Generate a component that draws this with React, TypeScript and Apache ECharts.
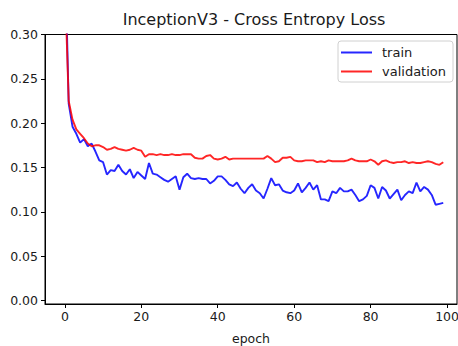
import React, { useEffect, useRef } from "react";
import * as echarts from "echarts";

const TITLE = "InceptionV3 - Cross Entropy Loss";
const X_TICKS = [0, 20, 40, 60, 80, 100];
const Y_TICKS = [0, 0.05, 0.1, 0.15, 0.2, 0.25, 0.3];

const trainLoss = [
  0.40, 0.222, 0.196, 0.188, 0.178, 0.182, 0.174, 0.177, 0.168, 0.158,
  0.156, 0.142, 0.147, 0.146, 0.153, 0.146, 0.142, 0.148, 0.138, 0.145,
  0.141, 0.137, 0.155, 0.143, 0.142, 0.139, 0.136, 0.134, 0.137, 0.140,
  0.125, 0.139, 0.143, 0.138, 0.137, 0.138, 0.137, 0.137, 0.132, 0.135,
  0.140, 0.140, 0.136, 0.131, 0.129, 0.133, 0.126, 0.121, 0.127, 0.131,
  0.124, 0.121, 0.115, 0.126, 0.138, 0.130, 0.131, 0.124, 0.122, 0.121,
  0.124, 0.132, 0.122, 0.127, 0.133, 0.125, 0.130, 0.114, 0.114, 0.112,
  0.123, 0.121, 0.127, 0.123, 0.123, 0.125, 0.119, 0.112, 0.114, 0.118,
  0.130, 0.127, 0.115, 0.128, 0.124, 0.115, 0.120, 0.125, 0.113, 0.119,
  0.123, 0.121, 0.133, 0.123, 0.128, 0.125, 0.119, 0.108, 0.109, 0.110,
];

const validationLoss = [
  0.36, 0.225, 0.204, 0.193, 0.188, 0.183, 0.177, 0.174, 0.175, 0.175,
  0.173, 0.170, 0.171, 0.173, 0.171, 0.170, 0.169, 0.170, 0.172, 0.170,
  0.169, 0.162, 0.165, 0.165, 0.164, 0.165, 0.164, 0.164, 0.165, 0.164,
  0.164, 0.165, 0.165, 0.165, 0.161, 0.160, 0.160, 0.163, 0.164, 0.160,
  0.159, 0.160, 0.162, 0.159, 0.160, 0.160, 0.160, 0.160, 0.160, 0.160,
  0.160, 0.160, 0.160, 0.163, 0.160, 0.156, 0.157, 0.161, 0.161, 0.162,
  0.158, 0.157, 0.157, 0.158, 0.158, 0.158, 0.156, 0.157, 0.156, 0.158,
  0.157, 0.157, 0.157, 0.157, 0.158, 0.160, 0.158, 0.157, 0.157, 0.157,
  0.159, 0.157, 0.153, 0.157, 0.158, 0.156, 0.155, 0.156, 0.156, 0.157,
  0.155, 0.156, 0.155, 0.155, 0.156, 0.157, 0.156, 0.154, 0.153, 0.156,
];

const FONT = "DejaVu Sans";
const TEXT_COLOR = "#1a1a1a";

export default function App() {
  const ref = useRef<HTMLDivElement>(null);
  useEffect(() => {
    if (!ref.current) return;
    const chart = echarts.init(ref.current, undefined, { renderer: "svg" });
    const trainData = trainLoss.map((v, i) => [i, v]);
    const valData = validationLoss.map((v, i) => [i, v]);
    chart.setOption({
      animation: false,
      backgroundColor: "#fff",
      graphic: [
        {
          type: "text",
          x: 254,
          y: 19.5,
          style: {
            text: TITLE,
            fontFamily: FONT,
            fontSize: 16,
            fill: TEXT_COLOR,
            textAlign: "center",
            textVerticalAlign: "middle",
          },
        },
      ],
      grid: {
        left: 45,
        top: 34.5,
        right: 1,
        bottom: 42,
        outerBoundsMode: "none",
        containLabel: false,
        show: true,
        borderColor: "#000",
        borderWidth: 1,
        backgroundColor: "transparent",
      },
      legend: {
        left: 338,
        top: 41,
        orient: "vertical",
        icon: "rect",
        itemWidth: 31,
        itemHeight: 2,
        itemGap: 6,
        padding: [5, 7, 4, 3],
        borderColor: "#d0d0d0",
        borderWidth: 1,
        borderRadius: 3,
        backgroundColor: "#fff",
        textStyle: {
          fontFamily: FONT,
          fontSize: 13,
          color: TEXT_COLOR,
          padding: [0, 0, 0, 5],
        },
        data: ["train", "validation"],
      },
      xAxis: {
        type: "value",
        min: -5.2,
        max: 102.6,
        name: "epoch",
        nameLocation: "middle",
        nameGap: 28,
        nameTextStyle: { fontFamily: FONT, fontSize: 12.5, color: TEXT_COLOR },
        splitLine: { show: false },
        axisLine: { show: true, onZero: false, lineStyle: { color: "#000", width: 1 } },
        axisTick: {
          show: true,
          length: 4,
          customValues: X_TICKS,
          lineStyle: { color: "#000" },
        },
        axisLabel: {
          customValues: X_TICKS,
          margin: 6,
          fontFamily: FONT,
          fontSize: 12.5,
          color: TEXT_COLOR,
        },
      },
      yAxis: {
        type: "value",
        min: -0.004,
        max: 0.3,
        splitLine: { show: false },
        axisLine: { show: true, onZero: false, lineStyle: { color: "#000", width: 1 } },
        axisTick: {
          show: true,
          length: 4,
          customValues: Y_TICKS,
          lineStyle: { color: "#000" },
        },
        axisLabel: {
          customValues: Y_TICKS,
          margin: 7,
          fontFamily: FONT,
          fontSize: 12.5,
          color: TEXT_COLOR,
          formatter: (v: number) => v.toFixed(2),
        },
      },
      series: [
        {
          name: "train",
          type: "line",
          data: trainData,
          showSymbol: false,
          symbol: "none",
          clip: true,
          color: "rgba(0,0,255,0.85)",
          lineStyle: { color: "rgba(0,0,255,0.85)", width: 1.9 },
        },
        {
          name: "validation",
          type: "line",
          data: valData,
          showSymbol: false,
          symbol: "none",
          clip: true,
          color: "rgba(255,0,0,0.85)",
          lineStyle: { color: "rgba(255,0,0,0.85)", width: 1.9 },
        },
      ],
    });
    return () => chart.dispose();
  }, []);
  return (
    <div
      ref={ref}
      style={{ position: "absolute", left: 0, top: 0, width: 458, height: 346 }}
    />
  );
}
